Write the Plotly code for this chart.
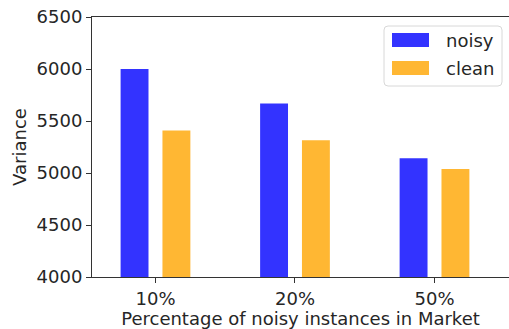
import plotly.graph_objects as go

categories = ["10%", "20%", "50%"]
noisy = [6000, 5668, 5143]
clean = [5408, 5316, 5039]
series_names = ["noisy", "clean"]
y_ticks = [4000, 4500, 5000, 5500, 6000, 6500]

BLUE = "rgba(0,0,255,0.8)"
ORANGE = "rgba(255,165,0,0.8)"
FONT = "DejaVu Sans"
TXT = "#262626"

W, H = 509, 329
ML, MR, MT, MB = 92, 0, 17, 52
PW, PH = W - ML - MR, H - MT - MB

xpos = list(range(len(categories)))

fig = go.Figure()
fig.add_trace(go.Bar(x=xpos, y=noisy, name=series_names[0], marker=dict(color=BLUE, line=dict(width=0)),
                     width=0.2, offset=-0.25, showlegend=False))
fig.add_trace(go.Bar(x=xpos, y=clean, name=series_names[1], marker=dict(color=ORANGE, line=dict(width=0)),
                     width=0.2, offset=0.05, showlegend=False))

def px2x(px):
    return (px - ML) / PW

def px2y(py):
    return (H - MB - py) / PH

# legend box (rounded)
x0, x1, y0, y1, r = 384, 502, 26, 86, 4
path = (f"M {px2x(x0+r)},{px2y(y0)} L {px2x(x1-r)},{px2y(y0)} Q {px2x(x1)},{px2y(y0)} {px2x(x1)},{px2y(y0+r)} "
        f"L {px2x(x1)},{px2y(y1-r)} Q {px2x(x1)},{px2y(y1)} {px2x(x1-r)},{px2y(y1)} "
        f"L {px2x(x0+r)},{px2y(y1)} Q {px2x(x0)},{px2y(y1)} {px2x(x0)},{px2y(y1-r)} "
        f"L {px2x(x0)},{px2y(y0+r)} Q {px2x(x0)},{px2y(y0)} {px2x(x0+r)},{px2y(y0)} Z")
shapes = [dict(type="path", xref="paper", yref="paper", path=path,
               fillcolor="rgba(255,255,255,0.8)", line=dict(color="#d8d8d8", width=1))]
annotations = []
for i, (name, col) in enumerate(zip(series_names, [BLUE, ORANGE])):
    top = 33 + i * 28
    shapes.append(dict(type="rect", xref="paper", yref="paper",
                       x0=px2x(392), x1=px2x(429), y0=px2y(top), y1=px2y(top + 14),
                       fillcolor=col, line=dict(width=0)))
    annotations.append(dict(xref="paper", yref="paper", x=px2x(444), y=px2y(top + 7),
                            text=name, showarrow=False, xanchor="left", yanchor="middle",
                            font=dict(family=FONT, size=18, color=TXT)))

fig.update_layout(
    width=W, height=H,
    margin=dict(l=ML, r=MR, t=MT, b=MB, pad=0),
    plot_bgcolor="white", paper_bgcolor="white",
    font=dict(family=FONT, size=18, color=TXT),
    shapes=shapes, annotations=annotations,
    xaxis=dict(range=[-0.455, 2.534], tickvals=xpos, ticktext=categories,
               showgrid=False, zeroline=False, showline=True, linecolor="#333333", linewidth=1,
               mirror=True, ticks="outside", ticklen=5, tickcolor="#333333",
               title=dict(text="Percentage of noisy instances in Market", standoff=0,
                          font=dict(family=FONT, size=18, color=TXT)),
               tickfont=dict(family=FONT, size=18, color=TXT)),
    yaxis=dict(range=[4000, 6500], tickvals=y_ticks, showgrid=False, zeroline=False,
               showline=True, linecolor="#333333", linewidth=1, ticks="outside", ticklen=5,
               tickcolor="#333333", title=dict(text="Variance", standoff=5,
                                              font=dict(family=FONT, size=18, color=TXT)),
               tickfont=dict(family=FONT, size=18, color=TXT)),
)

fig.write_html("out.html", config={"displayModeBar": False},
               post_script="document.body.style.margin='0';document.body.style.overflow='hidden';")
